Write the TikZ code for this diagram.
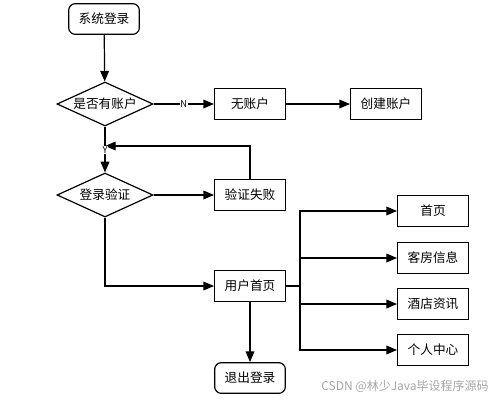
\documentclass[tikz,border=0pt]{standalone}
\usepackage{fontspec}
\setmainfont{Noto Sans CJK SC}
\newfontfamily\wmfont{Noto Sans CJK SC}
\usetikzlibrary{shapes.geometric,arrows.meta}
\begin{document}
\begin{tikzpicture}[x=0.75pt,y=-0.75pt,
  font=\fontsize{9.5}{11}\selectfont,
  line width=0.9pt,
  box/.style={draw,line width=0.9pt,minimum width=53pt,minimum height=23pt,inner sep=1pt,fill=white},
  rbox/.style={box,rounded corners=5pt},
  dia/.style={draw,diamond,aspect=2.15,minimum width=72pt,minimum height=33pt,inner sep=0pt,fill=white},
  arr/.style={-{Triangle[length=8pt,width=6.5pt]},line width=0.9pt},
  lab/.style={font=\fontsize{7}{8}\selectfont,fill=white,inner sep=0.6pt}]
\useasboundingbox (0,0) rectangle (500,400);
\node[rbox] (login) at (104,19) {系统登录};
\node[dia] (has) at (105,104) {是否有账户};
\node[box] (noacc) at (250,104) {无账户};
\node[box] (create) at (386,104) {创建账户};
\node[dia] (verify) at (105,195) {登录验证};
\node[box] (fail) at (250,195) {验证失败};
\node[box] (home) at (250,286) {用户首页};
\node[rbox] (logout) at (250,378) {退出登录};
\node[box] (b1) at (433,211) {首页};
\node[box] (b2) at (433,258) {客房信息};
\node[box] (b3) at (433,304) {酒店资讯};
\node[box] (b4) at (433,350) {个人中心};
\coordinate (merge) at (105,146);
\coordinate (split) at (300,286);

\draw[arr] (login) -- (has);
\draw[arr] (has) -- node[lab,pos=0.5]{N} (noacc);
\draw[arr] (noacc) -- (create);
\draw (has.south) -- (merge);
\draw[arr] (merge) -- (verify.north);
\draw[arr] (fail.north) |- (merge);
\node[lab] (ylab) at (105,150) {Y};
\draw[arr] (verify) -- (fail);
\draw[arr] (verify.south) |- (home.west);
\draw[arr] (home) -- (logout);
\draw (home.east) -- (split);
\draw[arr] (split) |- (b1.west);
\draw[arr] (split) |- (b2.west);
\draw[arr] (split) |- (b3.west);
\draw[arr] (split) |- (b4.west);
\node[text=black!35,font=\wmfont\fontsize{9}{10}\selectfont] (wm) at (405,386) {CSDN @林少Java毕设程序源码};
\end{tikzpicture}
\end{document}
